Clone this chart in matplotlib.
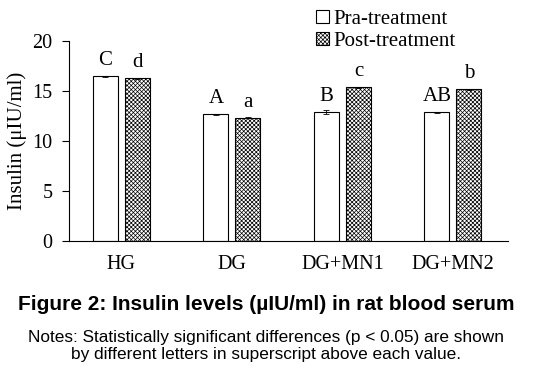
import matplotlib
matplotlib.use("Agg")
import matplotlib.pyplot as plt
import numpy as np

# data
groups = ["HG", "DG", "DG+MN1", "DG+MN2"]
pre = [16.45, 12.65, 12.85, 12.85]
post = [16.25, 12.3, 15.35, 15.15]
pre_err = [0.05, 0.05, 0.2, 0.05]
post_err = [0.05, 0.05, 0.05, 0.05]
pre_letters = ["C", "A", "B", "AB"]
post_letters = ["d", "a", "c", "b"]

plt.rcParams["hatch.linewidth"] = 0.5

fig = plt.figure(figsize=(5.47, 3.81), dpi=100)
ax = fig.add_axes([0.126, 0.3675, 0.803, 0.525])

x = np.arange(len(groups))
w = 0.226
off = 0.145

ax.bar(x - off, pre, w, color="white", edgecolor="black", linewidth=0.8,
       yerr=pre_err, error_kw=dict(ecolor="black", elinewidth=0.6, capsize=2.5, capthick=0.6),
       label="Pra-treatment")
ax.bar(x + off, post, w, color="white", edgecolor="black", linewidth=0.8, hatch="xxxxxxxx",
       yerr=post_err, error_kw=dict(ecolor="black", elinewidth=0.6, capsize=2.5, capthick=0.6),
       label="Post-treatment")

# significance letters
serif = "Liberation Serif"
for i in range(len(groups)):
    ax.text(x[i] - off, pre[i] + 0.6, pre_letters[i], ha="center", va="bottom",
            fontsize=15, family=serif)
    ax.text(x[i] + off, post[i] + 0.6, post_letters[i], ha="center", va="bottom",
            fontsize=15, family=serif)

ax.set_xlim(-0.475, 3.5)
ax.set_ylim(0, 20)
ax.set_yticks([0, 5, 10, 15, 20])
ax.set_xticks(x)
ax.set_xticklabels(groups, family=serif, fontsize=14.5)
for t in ax.get_yticklabels():
    t.set_family(serif)
    t.set_fontsize(14.5)
ax.tick_params(axis="x", length=0, pad=10)
ax.tick_params(axis="y", direction="out", length=5, width=0.8, pad=7)
ax.spines["top"].set_visible(False)
ax.spines["right"].set_visible(False)
ax.spines["left"].set_linewidth(0.8)
ax.spines["bottom"].set_linewidth(0.8)
ax.set_ylabel("Insulin (\u03bcIU/ml)", family=serif, fontsize=15, labelpad=4)

fig.legend(*ax.get_legend_handles_labels(), loc="upper left",
           bbox_to_anchor=(316 / 547, 1 - 10 / 381), frameon=False,
           prop={"family": serif, "size": 15}, handlelength=0.6, handleheight=0.6,
           handletextpad=0.25, labelspacing=0.15, borderaxespad=0, borderpad=0)

# caption below the chart
cx = 266 / 547
fig.text(cx, 1 - 305 / 381, "Figure 2: Insulin levels (\u00b5IU/ml) in rat blood serum",
         ha="center", va="center", family="Liberation Sans", fontweight="bold", fontsize=15)
fig.text(cx, 1 - 346 / 381, "Notes: Statistically significant differences (p < 0.05) are shown\n"
         "by different letters in superscript above each value.",
         ha="center", va="center", family="Liberation Sans", fontsize=12.4, linespacing=1.1)

fig.savefig("out.png", dpi=100)
